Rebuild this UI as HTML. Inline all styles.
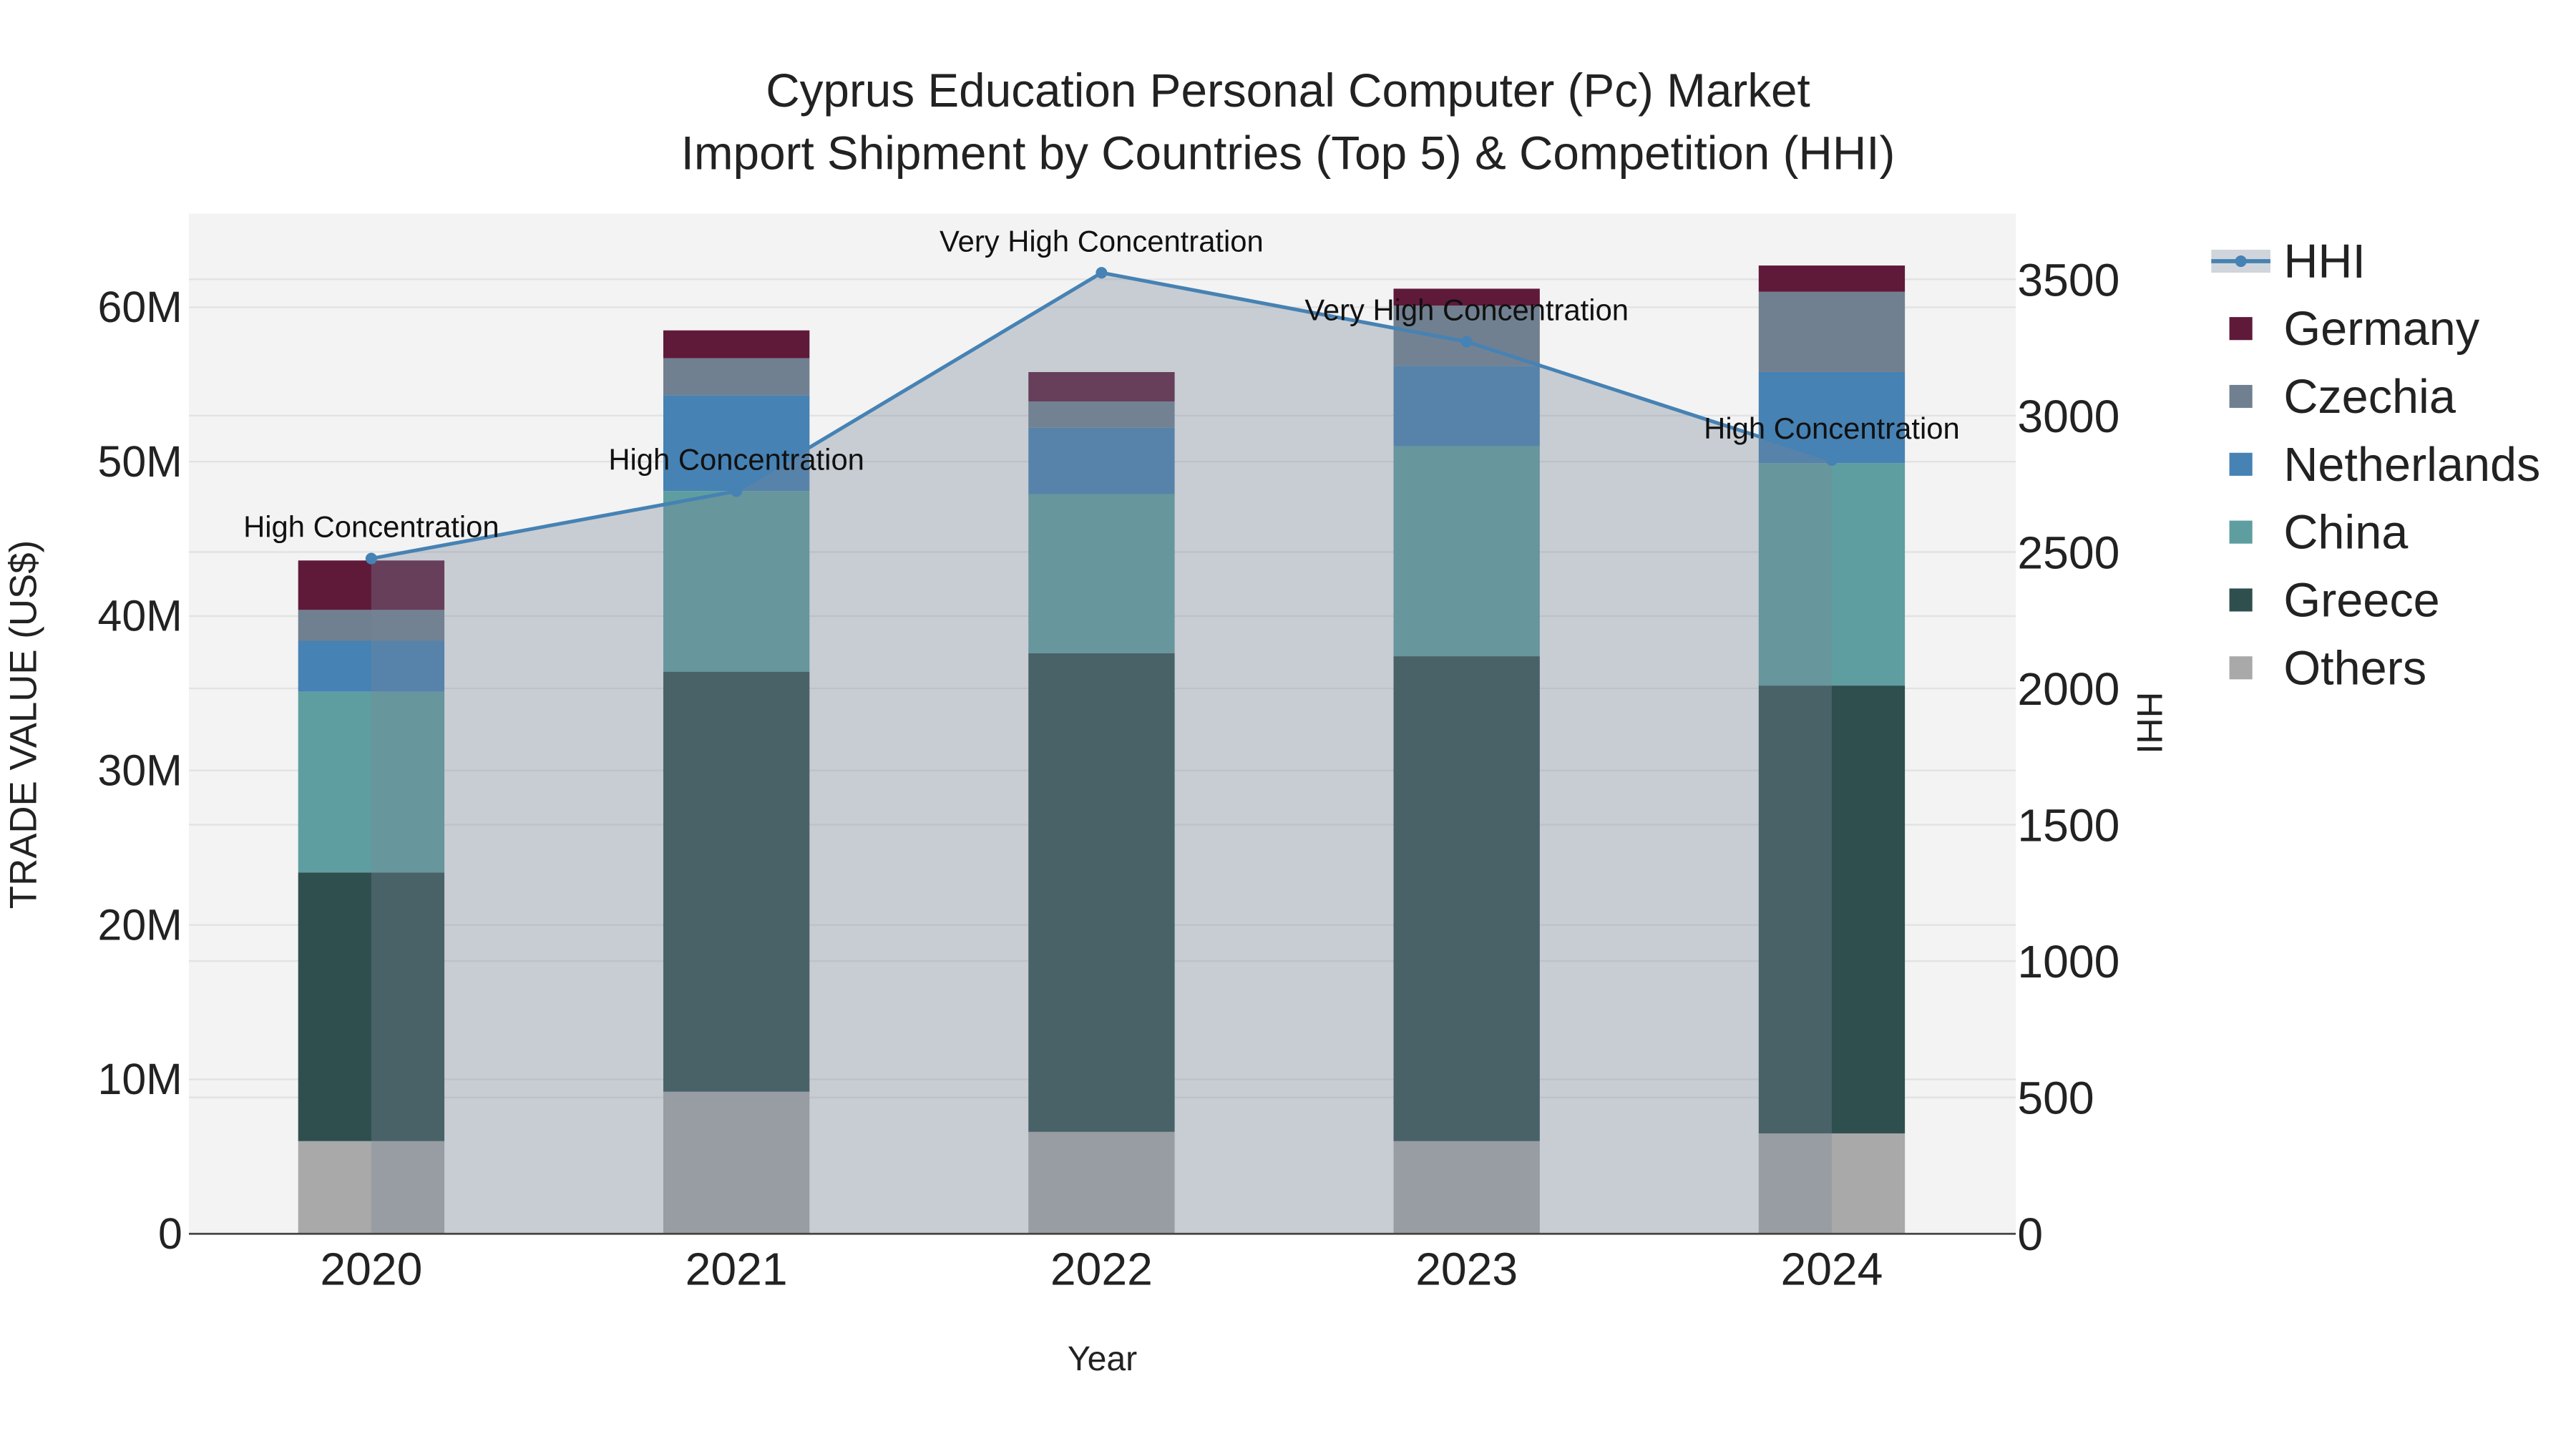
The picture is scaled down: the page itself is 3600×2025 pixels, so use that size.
<!DOCTYPE html>
<html><head><meta charset="utf-8"><style>
html,body{margin:0;padding:0;background:#fff}
svg{display:block;font-family:"Liberation Sans",Arial,sans-serif}
</style></head><body>
<svg id="chart" width="3600" height="2025" viewBox="0 0 1568 882" xmlns="http://www.w3.org/2000/svg">
<rect x="115" y="130" width="1112" height="621" fill="#f3f3f3"/>
<g id="grid"></g>
<g id="bars"></g>
<g id="hhi"></g>
<g id="axes"></g>
<g id="legend"></g>
<text x="784" y="65" text-anchor="middle" font-size="28.6" fill="#222">Cyprus Education Personal Computer (Pc) Market</text>
<text x="784" y="103" text-anchor="middle" font-size="28.6" fill="#222">Import Shipment by Countries (Top 5) &amp; Competition (HHI)</text>
<text x="671" y="834" text-anchor="middle" font-size="21" fill="#222">Year</text>
<text transform="translate(22,441) rotate(-90)" text-anchor="middle" font-size="23" fill="#222">TRADE VALUE (US$)</text>
<text transform="translate(1301,440) rotate(90)" text-anchor="middle" font-size="22" fill="#222">HHI</text>
</svg>
<script>
const years = ["2020","2021","2022","2023","2024"];
const others = [6.0, 9.2, 6.6, 6.0, 6.5];
const greece = [17.4, 27.2, 31.0, 31.4, 29.0];
const china = [11.7, 11.7, 10.3, 13.6, 14.4];
const netherlands = [3.3, 6.2, 4.3, 5.2, 5.9];
const czechia = [2.0, 2.4, 1.7, 3.9, 5.2];
const germany = [3.2, 1.8, 1.9, 1.1, 1.7];
const hhi = [2476, 2723, 3524, 3271, 2837];
const hhiLabels = ["High Concentration","High Concentration","Very High Concentration","Very High Concentration","High Concentration"];
const leftTicks = [0,10,20,30,40,50,60];
const rightTicks = [0,500,1000,1500,2000,2500,3000,3500];

const NS="http://www.w3.org/2000/svg";
const X0=115,X1=1227,Y0=751,YT=130;
const xPos=i=>226+i*222.25;
const yL=v=>Y0-v*9.4;
const yR=v=>Y0-v*0.166;
function mk(tag,attrs,parent){const e=document.createElementNS(NS,tag);for(const k in attrs)e.setAttribute(k,attrs[k]);parent.appendChild(e);return e;}

const grid=document.getElementById('grid');
leftTicks.forEach(t=>{if(t===0)return;const l=mk('line',{x1:X0,x2:X1,y1:yL(t),y2:yL(t),stroke:'#e2e2e2','stroke-width':1},grid);

});
rightTicks.forEach(t=>{if(t===0)return;const l=mk('line',{x1:X0,x2:X1,y1:yR(t),y2:yR(t),stroke:'#e2e2e2','stroke-width':1},grid);

});

const series=[["Others",others,"#a9a9a9"],["Greece",greece,"#2f4f4f"],["China",china,"#5f9ea0"],["Netherlands",netherlands,"#4682b4"],["Czechia",czechia,"#708090"],["Germany",germany,"#5f1a3a"]];
const bars=document.getElementById('bars');
years.forEach((y,i)=>{let base=0;series.forEach(([name,vals,col])=>{const v=vals[i];
const r=mk('rect',{x:xPos(i)-44.5,width:89,y:yL(base+v),height:yL(base)-yL(base+v),fill:col},bars);


base+=v;});});

const hg=document.getElementById('hhi');
let pts=hhi.map((v,i)=>xPos(i)+','+yR(v));
const area=mk('polygon',{points:xPos(0)+','+Y0+' '+pts.join(' ')+' '+xPos(hhi.length-1)+','+Y0,fill:'rgba(119,136,153,0.35)'},hg);


const line=mk('polyline',{points:pts.join(' '),fill:'none',stroke:'#4682b4','stroke-width':2.2},hg);


hhi.forEach((v,i)=>{const c=mk('circle',{cx:xPos(i),cy:yR(v),r:3.5,fill:'#4682b4'},hg);


const t=mk('text',{x:xPos(i),y:yR(v)-13,'text-anchor':'middle','font-size':18.2,fill:'#111'},hg);t.textContent=hhiLabels[i];

});

const ax=document.getElementById('axes');
const base=mk('line',{x1:X0,x2:X1,y1:Y0,y2:Y0,stroke:'#444','stroke-width':1.2},ax);


leftTicks.forEach(t=>{const e=mk('text',{x:111,y:yL(t)+9,'text-anchor':'end','font-size':26.5,fill:'#222'},ax);e.textContent=t===0?'0':t+'M';

});
rightTicks.forEach(t=>{const e=mk('text',{x:1228,y:yR(t)+10,'text-anchor':'start','font-size':28,fill:'#222'},ax);e.textContent=t;

});
years.forEach((y,i)=>{const e=mk('text',{x:xPos(i),y:782,'text-anchor':'middle','font-size':28,fill:'#222'},ax);e.textContent=y;

});

const lg=document.getElementById('legend');
const g0=mk('g',{},lg);


mk('rect',{x:1346,y:152,width:36,height:14,fill:'rgba(119,136,153,0.35)'},g0);
mk('line',{x1:1346,x2:1382,y1:159,y2:159,stroke:'#4682b4','stroke-width':2.5},g0);
mk('circle',{cx:1364,cy:159,r:3.5,fill:'#4682b4'},g0);
mk('text',{x:1390,y:169,'font-size':29,fill:'#222'},g0).textContent='HHI';
const legOrder=[["Germany","#5f1a3a"],["Czechia","#708090"],["Netherlands","#4682b4"],["China","#5f9ea0"],["Greece","#2f4f4f"],["Others","#a9a9a9"]];
legOrder.forEach(([n,c],k)=>{const y=200+k*41.3;const g=mk('g',{},lg);


mk('rect',{x:1357,y:y-7,width:14,height:14,fill:c},g);
mk('text',{x:1390,y:y+10,'font-size':29,fill:'#222'},g).textContent=n;});
</script>
</body></html>
